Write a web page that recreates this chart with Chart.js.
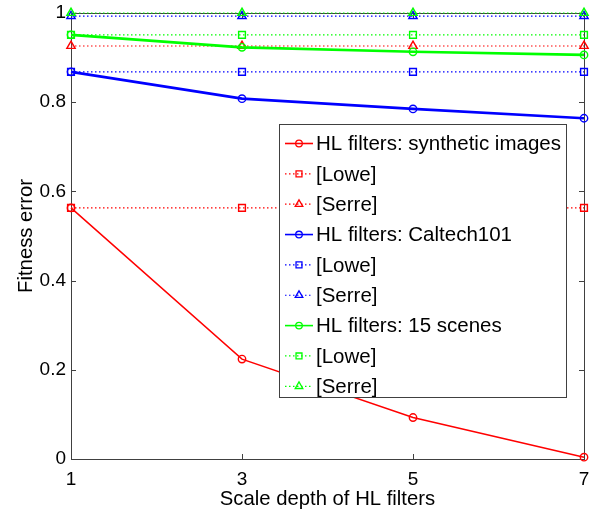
<!DOCTYPE html>
<html><head><meta charset="utf-8">
<script src="https://cdn.jsdelivr.net/npm/chart.js@4.4.0/dist/chart.umd.min.js"></script>
<style>html,body{margin:0;padding:0;background:#fff}#wrap{width:596px;height:514px}</style>
</head><body><div id="wrap"><canvas id="c" width="596" height="514"></canvas></div>
<script>
// Scale depth of the HL filters (x) and fitness error per dataset (y)
const depths = [1, 3, 5, 7];
const synthHL = [0.563, 0.224, 0.093, 0.004];
const synthLowe = [0.563, 0.563, 0.563, 0.563];
const synthSerre = [0.926, 0.926, 0.926, 0.926];
const caltechHL = [0.868, 0.808, 0.785, 0.764];
const caltechLowe = [0.868, 0.868, 0.868, 0.868];
const caltechSerre = [0.993, 0.993, 0.993, 0.993];
const scenesHL = [0.951, 0.923, 0.913, 0.906];
const scenesLowe = [0.951, 0.951, 0.951, 0.951];
const scenesSerre = [1.0, 1.0, 1.0, 1.0];
const xTicks = [1, 3, 5, 7];
const yTicks = [0, 0.2, 0.4, 0.6, 0.8, 1];

const FONT = '"Liberation Sans", Arial, Helvetica, sans-serif';
const RED = '#ff0000', BLUE = '#0000ff', GREEN = '#00ff00';

function pts(arr) { return depths.map((x, i) => ({ x: x, y: arr[i] })); }

function series(label, arr, color, kind, style) {
  const solid = kind === 'solid';
  return {
    label: label,
    data: pts(arr),
    borderColor: color,
    borderWidth: solid ? (color === RED ? 1.5 : 2.6) : 1.2,
    borderDash: solid ? [] : [1.5, 2.5],
    pointStyle: style,
    pointRadius: style === 'circle' ? 3.7 : 4.8,
    pointBorderWidth: 1.4,
    pointBorderColor: color,
    pointBackgroundColor: 'rgba(0,0,0,0)',
    fill: false,
    tension: 0,
    clip: false
  };
}

const datasets = [
  series('HL filters: synthetic images', synthHL, RED, 'solid', 'circle'),
  series('[Lowe]', synthLowe, RED, 'dot', 'rect'),
  series('[Serre]', synthSerre, RED, 'dot', 'triangle'),
  series('HL filters: Caltech101', caltechHL, BLUE, 'solid', 'circle'),
  series('[Lowe]', caltechLowe, BLUE, 'dot', 'rect'),
  series('[Serre]', caltechSerre, BLUE, 'dot', 'triangle'),
  series('HL filters: 15 scenes', scenesHL, GREEN, 'solid', 'circle'),
  series('[Lowe]', scenesLowe, GREEN, 'dot', 'rect'),
  series('[Serre]', scenesSerre, GREEN, 'dot', 'triangle')
];
// later series are painted over earlier ones
datasets.forEach((d, i) => { d.order = datasets.length - i; });

function marker(ctx, style, x, y, r) {
  ctx.beginPath();
  if (style === 'circle') {
    ctx.arc(x, y, r, 0, Math.PI * 2);
  } else if (style === 'rect') {
    const s = r * Math.SQRT1_2;
    ctx.rect(x - s, y - s, 2 * s, 2 * s);
  } else {
    for (let k = 0; k < 3; k++) {
      const a = k * 2 * Math.PI / 3;
      const px = x + Math.sin(a) * r, py = y - Math.cos(a) * r;
      k === 0 ? ctx.moveTo(px, py) : ctx.lineTo(px, py);
    }
    ctx.closePath();
  }
  ctx.stroke();
}

// Axes box with inward tick marks on all four sides
const boxPlugin = {
  id: 'box',
  beforeDatasetsDraw(chart) {
    const { ctx, chartArea: a, scales } = chart;
    ctx.save();
    ctx.strokeStyle = '#404040';
    ctx.lineWidth = 1;
    ctx.strokeRect(Math.round(a.left) + 0.5, Math.round(a.top) + 0.5,
      Math.round(a.right - a.left), Math.round(a.bottom - a.top));
    const tl = 5;
    ctx.beginPath();
    xTicks.forEach(v => {
      const px = Math.round(scales.x.getPixelForValue(v)) + 0.5;
      ctx.moveTo(px, a.bottom); ctx.lineTo(px, a.bottom - tl);
      ctx.moveTo(px, a.top); ctx.lineTo(px, a.top + tl);
    });
    yTicks.forEach(v => {
      const py = Math.round(scales.y.getPixelForValue(v)) + 0.5;
      ctx.moveTo(a.left, py); ctx.lineTo(a.left + tl, py);
      ctx.moveTo(a.right, py); ctx.lineTo(a.right - tl, py);
    });
    ctx.stroke();
    ctx.restore();
  }
};

// Legend box drawn inside the plot, over the lines
const legendPlugin = {
  id: 'insideLegend',
  afterDatasetsDraw(chart) {
    const ctx = chart.ctx;
    const bx = 279.5, by = 124.5, bw = 287, bh = 273;
    const row0 = 143.5, rowH = 30.35;
    ctx.save();
    ctx.fillStyle = '#fff';
    ctx.fillRect(bx, by, bw, bh);
    ctx.strokeStyle = '#404040';
    ctx.lineWidth = 1;
    ctx.strokeRect(bx, by, bw, bh);
    ctx.font = '20.5px ' + FONT;
    ctx.textBaseline = 'middle';
    ctx.textAlign = 'left';
    datasets.forEach((d, i) => {
      const y = row0 + i * rowH;
      ctx.strokeStyle = d.borderColor;
      ctx.lineWidth = d.borderDash.length ? 1.2 : 1.6;
      ctx.setLineDash(d.borderDash);
      ctx.beginPath(); ctx.moveTo(285, y); ctx.lineTo(313, y); ctx.stroke();
      ctx.setLineDash([]);
      ctx.lineWidth = 1.3;
      marker(ctx, d.pointStyle, 299, y, d.pointStyle === 'circle' ? 3.3 : (d.pointStyle === 'rect' ? 4.2 : 4.4));
      ctx.fillStyle = '#000';
      ctx.fillText(d.label, 316, y + 1);
    });
    ctx.restore();
  }
};

new Chart(document.getElementById('c'), {
  type: 'line',
  data: { datasets: datasets },
  plugins: [boxPlugin, legendPlugin],
  options: {
    responsive: false,
    animation: false,
    devicePixelRatio: 1,
    layout: { padding: { top: 13, right: 12, left: 0, bottom: 0 } },
    plugins: { legend: { display: false }, tooltip: { enabled: false } },
    scales: {
      x: {
        type: 'linear', min: 1, max: 7,
        afterBuildTicks: s => { s.ticks = xTicks.map(v => ({ value: v })); },
        afterFit: s => { s.height = 55; s.paddingLeft = 0; s.paddingRight = 0; },
        grid: { display: false, drawTicks: false },
        border: { display: false },
        ticks: { color: '#000', font: { family: FONT, size: 19 }, padding: 9, maxRotation: 0 },
        title: { display: true, text: 'Scale depth of HL filters', color: '#000',
          font: { family: FONT, size: 20.3 }, padding: { top: 0, bottom: 2 } }
      },
      y: {
        type: 'linear', min: 0, max: 1,
        afterBuildTicks: s => { s.ticks = yTicks.map(v => ({ value: v })); },
        afterFit: s => { s.width = 71; s.paddingTop = 0; s.paddingBottom = 0; },
        grid: { display: false, drawTicks: false },
        border: { display: false },
        ticks: { color: '#000', font: { family: FONT, size: 19 }, padding: 5,
          callback: v => String(+v.toFixed(1)) },
        title: { display: true, text: 'Fitness error', color: '#000',
          font: { family: FONT, size: 20.3 }, padding: { top: 14, bottom: 0 } }
      }
    }
  }
});
</script>
</body></html>
